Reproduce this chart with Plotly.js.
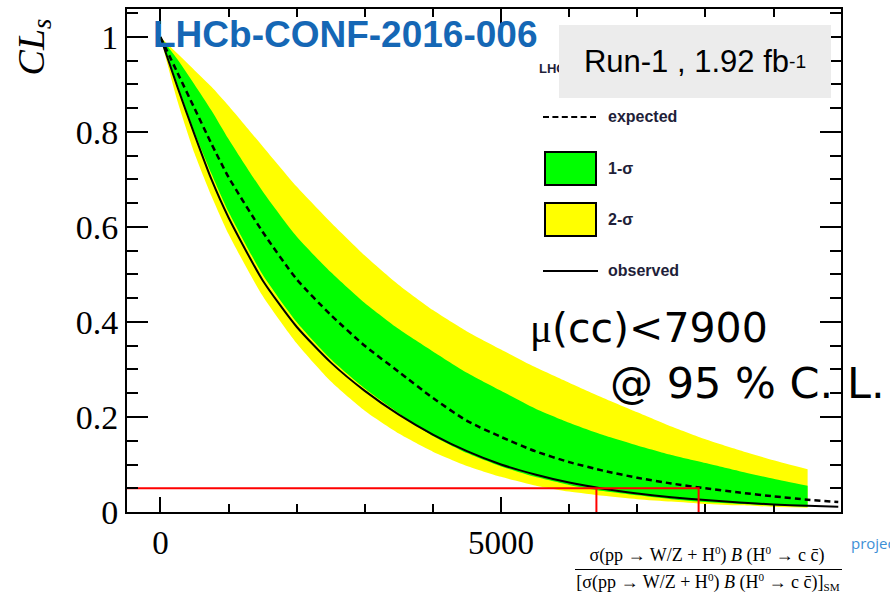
<!DOCTYPE html>
<html>
<head>
<meta charset="utf-8">
<script src="https://cdn.plot.ly/plotly-3.0.1.min.js"></script>
<style>
html,body{margin:0;padding:0;background:#fff;overflow:hidden}
#wrap{position:relative;width:890px;height:594px;overflow:hidden}
#chart{position:absolute;left:0;top:0;width:890px;height:594px}
#over{position:absolute;left:0;top:0;width:890px;height:594px;pointer-events:none}
.t{position:absolute;white-space:nowrap;line-height:1;transform:translateY(-50%)}
.tc{position:absolute;white-space:nowrap;line-height:1;transform:translate(-50%,-50%)}
.box{position:absolute;box-sizing:border-box}
sup,sub{font-size:62%;line-height:0}
</style>
</head>
<body>
<div id="wrap"><div id="chart"></div><div id="over"></div></div>
<script>
// ---- data ----
const xBand = [0, 250, 500, 750, 1000, 1500, 2000, 2500, 3000, 3500, 4000, 4500, 5000, 5500, 6000, 6500, 7000, 7500, 8000, 8500, 9000, 9500];
const xLine = [0, 250, 500, 750, 1000, 1500, 2000, 2500, 3000, 3500, 4000, 4500, 5000, 5500, 6000, 6500, 7000, 7500, 8000, 8500, 9000, 9500, 9950];
const observed = [1, 0.895, 0.795, 0.70, 0.62, 0.488, 0.39, 0.315, 0.255, 0.205, 0.163, 0.128, 0.10, 0.079, 0.062, 0.049, 0.039, 0.031, 0.025, 0.020, 0.016, 0.013, 0.011];
const expected = [1, 0.925, 0.85, 0.775, 0.705, 0.59, 0.49, 0.415, 0.35, 0.295, 0.24, 0.192, 0.158, 0.128, 0.105, 0.087, 0.072, 0.060, 0.050, 0.041, 0.033, 0.026, 0.021];
const sigma1Up = [1, 0.953, 0.90, 0.845, 0.785, 0.675, 0.58, 0.505, 0.44, 0.385, 0.338, 0.293, 0.255, 0.218, 0.188, 0.162, 0.14, 0.12, 0.103, 0.086, 0.07, 0.055];
const sigma1Dn = [1, 0.90, 0.80, 0.712, 0.632, 0.50, 0.40, 0.322, 0.26, 0.208, 0.16, 0.124, 0.096, 0.074, 0.057, 0.044, 0.035, 0.027, 0.021, 0.017, 0.014, 0.011];
const sigma2Up = [1, 0.965, 0.93, 0.895, 0.855, 0.77, 0.685, 0.61, 0.54, 0.478, 0.425, 0.38, 0.342, 0.305, 0.272, 0.24, 0.21, 0.18, 0.153, 0.13, 0.109, 0.09];
const sigma2Dn = [1, 0.865, 0.755, 0.665, 0.585, 0.455, 0.355, 0.275, 0.213, 0.165, 0.127, 0.097, 0.074, 0.056, 0.043, 0.034, 0.027, 0.022, 0.017, 0.014, 0.011, 0.009];
const clLevel = 0.05;
const limitObserved = 6400;
const limitExpected = 7900;
const xTickLabels = ['0', '5000'];
const xTickValues = [0, 5000];
const legendLabels = ['expected', '1-σ', '2-σ', 'observed'];

// ---- plot ----
const W = 890, H = 594, L = 127, R = 841, T = 9, B = 512;
const xRange = [-490, 9990];
const yRange = [0, 1.0589];
const sm = {shape: 'spline', smoothing: 0.6};
const traces = [
  {x: xBand, y: sigma2Dn, mode: 'lines', line: Object.assign({width: 0, color: '#ffff00'}, sm), hoverinfo: 'skip'},
  {x: xBand, y: sigma2Up, mode: 'lines', fill: 'tonexty', fillcolor: '#ffff00', line: Object.assign({width: 0, color: '#ffff00'}, sm), hoverinfo: 'skip'},
  {x: xBand, y: sigma1Dn, mode: 'lines', line: Object.assign({width: 0, color: '#00ff00'}, sm), hoverinfo: 'skip'},
  {x: xBand, y: sigma1Up, mode: 'lines', fill: 'tonexty', fillcolor: '#00ff00', line: Object.assign({width: 0, color: '#00ff00'}, sm), hoverinfo: 'skip'},
  {x: xLine, y: expected, mode: 'lines', line: Object.assign({width: 2.5, color: '#000', dash: '6px,4px'}, sm)},
  {x: xLine, y: observed, mode: 'lines', line: Object.assign({width: 2, color: '#000'}, sm)},
  {x: [xRange[0], limitExpected, limitExpected], y: [clLevel, clLevel, 0], mode: 'lines', line: {width: 2, color: '#ff0000'}},
  {x: [limitObserved, limitObserved], y: [clLevel, 0], mode: 'lines', line: {width: 2, color: '#ff0000'}}
];
const serif = 'Liberation Serif, Times New Roman, serif';
const sans = 'Liberation Sans, Arial, sans-serif';
const layout = {
  width: W, height: H,
  margin: {l: L, r: W - R, t: T, b: H - B},
  showlegend: false,
  xaxis: {
    range: xRange, tickmode: 'array', tickvals: xTickValues, ticktext: xTickLabels,
    ticks: 'inside', ticklen: 15, tickwidth: 2, tickcolor: '#000',
    minor: {dtick: 1000, ticks: 'inside', ticklen: 8, tickwidth: 2, tickcolor: '#000'},
    showline: true, linewidth: 2, linecolor: '#000', mirror: 'ticks',
    showgrid: false, zeroline: false,
    tickfont: {family: serif, size: 33, color: '#000'}
  },
  yaxis: {
    range: yRange, dtick: 0.2,
    ticks: 'inside', ticklen: 21, tickwidth: 2, tickcolor: '#000',
    minor: {dtick: 0.05, ticks: 'inside', ticklen: 11, tickwidth: 2, tickcolor: '#000'},
    showline: true, linewidth: 2, linecolor: '#000', mirror: 'ticks',
    showgrid: false, zeroline: false,
    tickfont: {family: serif, size: 34, color: '#000'}
  }
};
Plotly.newPlot('chart', traces, layout, {displayModeBar: false, staticPlot: true});

// ---- texts and legend decorations (real text, HTML overlay) ----
const legColor = '#1f1f3a';
const over = document.getElementById('over');
function txt(html, x, y, css, centered) {
  const d = document.createElement('div');
  d.className = centered ? 'tc' : 't';
  d.innerHTML = html;
  d.style.left = x + 'px';
  d.style.top = y + 'px';
  d.style.cssText += ';' + css;
  over.appendChild(d);
  return d;
}
function box(x, y, w, h, css) {
  const d = document.createElement('div');
  d.className = 'box';
  d.style.cssText = 'left:' + x + 'px;top:' + y + 'px;width:' + w + 'px;height:' + h + 'px;' + css;
  over.appendChild(d);
}
// y-axis title
txt('<i>CL<sub style="font-size:70%;vertical-align:-0.25em">s</sub></i>', 31, 47, 'font-family:' + serif + ';font-size:38px;color:#000;transform:translate(-50%,-50%) rotate(-90deg)', true);
// conference tag
txt('LHCb-CONF-2016-006', 153, 34, 'font-family:' + sans + ';font-weight:bold;font-size:37px;color:#1567b5');
// legend header (partly hidden by the run box)
txt('LHCb', 539, 68, 'font-family:' + sans + ';font-weight:bold;font-size:13px;color:' + legColor);
// run box
const rb = document.createElement('div');
rb.className = 'box';
rb.style.cssText = 'left:559px;top:25px;width:272px;height:73px;background:#ececec;font-family:' + sans + ';font-size:31px;color:#000;display:flex;align-items:center;justify-content:center;white-space:nowrap';
rb.innerHTML = 'Run-1 , 1.92 fb<sup style="vertical-align:0.7em">-1</sup>';
over.appendChild(rb);
// legend samples
box(543, 116, 53, 2, 'border-top:2px dashed #000');
box(544, 151, 53, 35, 'background:#00ff00;border:2px solid #000');
box(544, 202, 53, 35, 'background:#ffff00;border:2px solid #000');
box(543, 270, 55, 2, 'background:#000');
const legY = [117, 169, 220, 271];
legendLabels.forEach((lab, i) => txt(lab, 608, legY[i], 'font-family:' + sans + ';font-weight:bold;font-size:16px;color:' + legColor));
// limit statement
txt('<span style="font-family:' + serif + '">μ</span>(cc)&lt;' + limitExpected, 530, 328, 'font-family:DejaVu Sans,sans-serif;font-size:41px;color:#000');
txt('@ 95 % C. L.', 610, 383, 'font-family:DejaVu Sans,sans-serif;font-size:43px;color:#000');
// x-axis title (fraction)
txt('σ(pp → W/Z + H<sup style="vertical-align:0.6em">0</sup>) <i>B</i> (H<sup style="vertical-align:0.6em">0</sup> → c c̄)', 707, 555, 'font-family:' + serif + ';font-size:18px;color:#000', true);
box(575, 569, 267, 1, 'background:#000');
txt('[σ(pp → W/Z + H<sup style="vertical-align:0.6em">0</sup>) <i>B</i> (H<sup style="vertical-align:0.6em">0</sup> → c c̄)]<sub style="vertical-align:-0.3em">SM</sub>', 708, 582, 'font-family:' + serif + ';font-size:18px;color:#000', true);
// cut-off neighbour text
txt('projection', 851, 543, 'font-family:Open Sans,sans-serif;font-size:15px;color:#3d8fd6');
</script>
</body>
</html>
